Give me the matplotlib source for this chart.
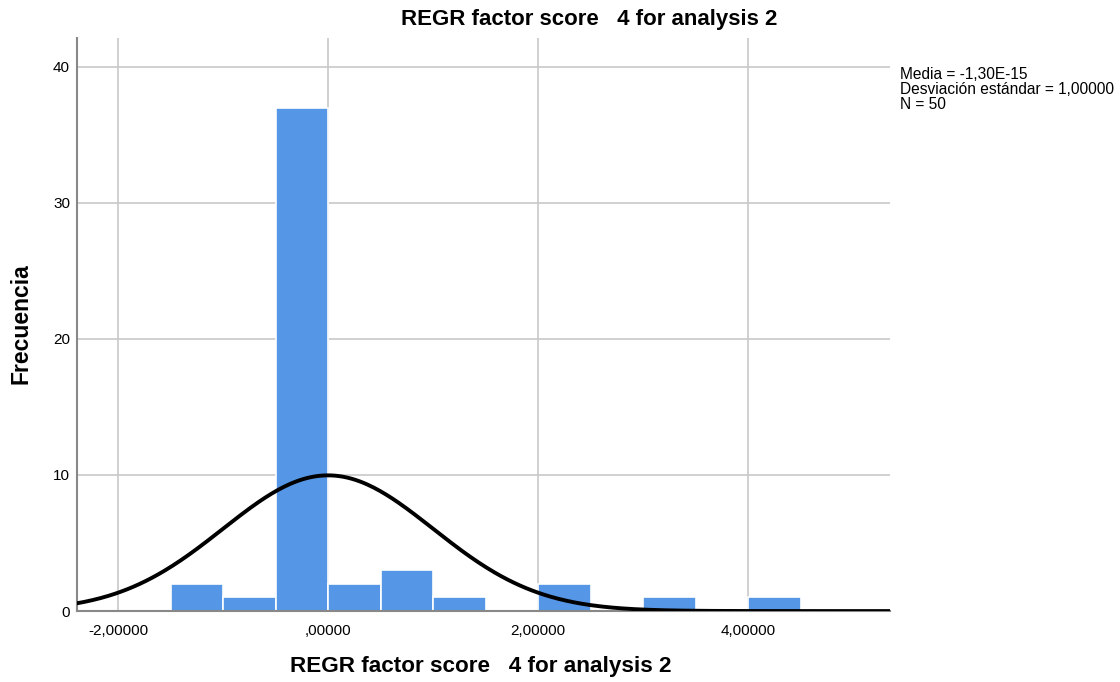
import numpy as np
import matplotlib
matplotlib.use("Agg")
import matplotlib.pyplot as plt

plt.rcParams['font.family'] = ['Liberation Sans', 'DejaVu Sans']

# histogram data (bin edges, counts)
bin_edges = [-1.5, -1.0, -0.5, 0.0, 0.5, 1.0, 1.5, 2.0, 2.5, 3.0, 3.5, 4.0, 4.5]
counts = [2, 1, 37, 2, 3, 1, 0, 2, 0, 1, 0, 1]
mean = 0.0
std = 1.0
n = 50
xticks = [-2, 0, 2, 4]
xticklabels = ["-2,00000", ",00000", "2,00000", "4,00000"]
yticks = [0, 10, 20, 30, 40]

fig = plt.figure(figsize=(11.2, 6.82), dpi=100)
ax = fig.add_axes([0.0688, 0.104, 0.7258, 0.840])

widths = np.diff(bin_edges)
ax.bar(bin_edges[:-1], counts, width=widths, align='edge',
       color='#5596E6', edgecolor='white', linewidth=1.2, zorder=2)

# normal curve scaled to counts
bw = 0.5
xs = np.linspace(-2.4, 5.4, 400)
ys = n * bw * np.exp(-0.5 * ((xs - mean) / std) ** 2) / (std * np.sqrt(2 * np.pi))
ax.plot(xs, ys, color='black', linewidth=2.8, zorder=3)

ax.set_xlim(-2.39, 5.35)
ax.set_ylim(0, 42.1)
ax.set_xticks(xticks)
ax.set_xticklabels(xticklabels)
ax.set_yticks(yticks)
ax.tick_params(axis='x', length=0, labelsize=11, pad=9)
ax.tick_params(axis='y', length=0, labelsize=11, pad=5)
ax.grid(True, color='#C8C8C8', linewidth=1.2, zorder=0)
ax.set_axisbelow(True)
for s in ['top', 'right']:
    ax.spines[s].set_visible(False)
for s in ['left', 'bottom']:
    ax.spines[s].set_color('#888888')
    ax.spines[s].set_linewidth(1.5)

fig.text(0.526, 0.972, "REGR factor score   4 for analysis 2",
         ha='center', va='center', fontsize=16, fontweight='bold')
fig.text(0.429, 0.022, "REGR factor score   4 for analysis 2",
         ha='center', va='center', fontsize=16.2, fontweight='bold')
fig.text(0.019, 0.525, "Frecuencia", rotation=90,
         ha='center', va='center', fontsize=16.5, fontweight='bold')
fig.text(0.804, 0.902, "Media = -1,30E-15\nDesviación estándar = 1,00000\nN = 50",
         ha='left', va='top', fontsize=11.2, linespacing=1.0)

fig.savefig("out.png", dpi=100)
